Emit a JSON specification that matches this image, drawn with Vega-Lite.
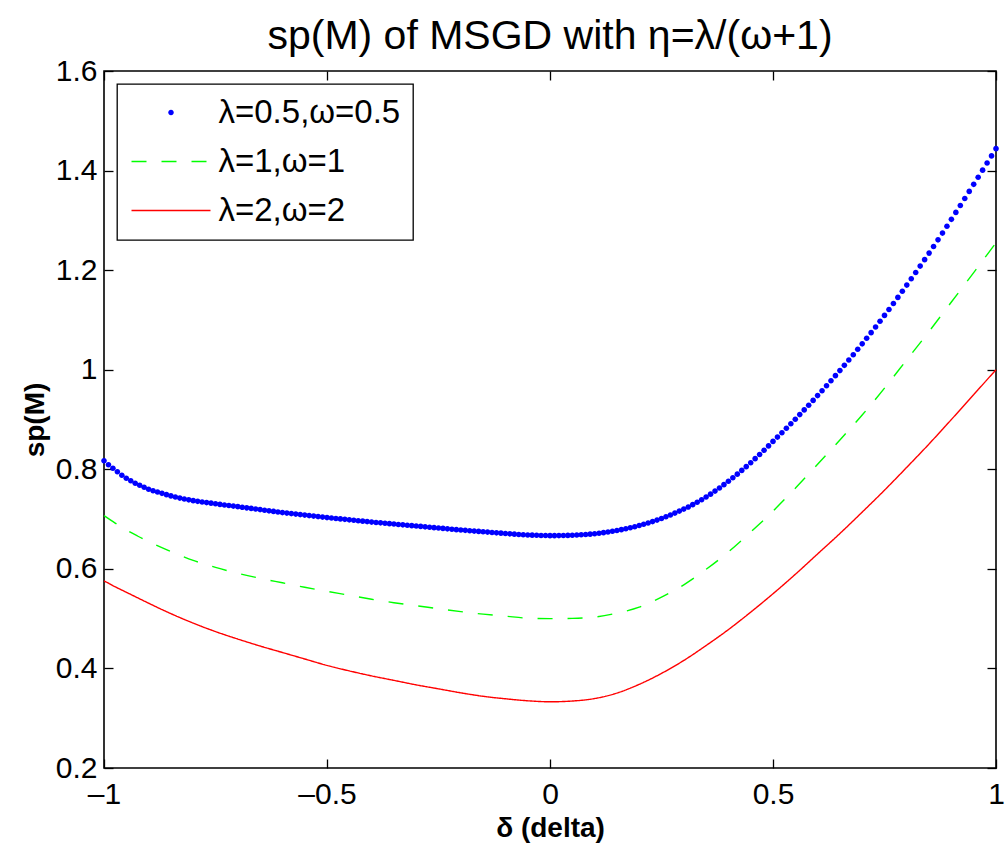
{
  "$schema": "https://vega.github.io/schema/vega-lite/v6.json",
  "width": 892,
  "height": 697,
  "autosize": {"type": "none"},
  "padding": {"left": 104, "top": 71, "right": 9, "bottom": 79},
  "background": "white",
  "title": {
    "text": "sp(M) of MSGD with η=λ/(ω+1)",
    "font": "Liberation Sans",
    "fontSize": 41,
    "fontWeight": "normal",
    "color": "black",
    "anchor": "middle",
    "frame": "group",
    "offset": -2
  },
  "config": {
    "view": {"stroke": "black", "strokeWidth": 1.6},
    "axis": {
      "domain": false,
      "grid": false,
      "tickColor": "black",
      "tickWidth": 1.3,
      "tickSize": -9,
      "labelFont": "Liberation Sans",
      "labelFontSize": 30,
      "labelColor": "black",
      "labelFlush": false,
      "labelOverlap": false,
      "titleFont": "Liberation Sans",
      "titleFontSize": 28,
      "titleFontWeight": "bold",
      "titleColor": "black"
    },
    "legend": {
      "orient": "top-left",
      "offset": 13,
      "padding": 12,
      "strokeColor": "black",
      "strokeWidth": 1.3,
      "fillColor": "white",
      "labelFont": "Liberation Sans",
      "labelFontSize": 33,
      "labelColor": "black",
      "labelLimit": 1000,
      "symbolSize": 100,
      "symbolOffset": 25.5,
      "labelOffset": 31,
      "rowPadding": 15,
      "symbolStrokeWidth": 1.4,
      "symbolOpacity": 1
    }
  },
  "datasets": {
    "blue": [
      {"d": -1.00, "v": 0.817}, {"d": -0.99, "v": 0.809}, {"d": -0.98, "v": 0.802}, {"d": -0.97, "v": 0.795}, {"d": -0.96, "v": 0.788},
      {"d": -0.95, "v": 0.782}, {"d": -0.94, "v": 0.777}, {"d": -0.93, "v": 0.772}, {"d": -0.92, "v": 0.768}, {"d": -0.91, "v": 0.764},
      {"d": -0.90, "v": 0.760}, {"d": -0.89, "v": 0.757}, {"d": -0.88, "v": 0.7543}, {"d": -0.87, "v": 0.7517}, {"d": -0.86, "v": 0.749},
      {"d": -0.85, "v": 0.7465}, {"d": -0.84, "v": 0.7443}, {"d": -0.83, "v": 0.7422}, {"d": -0.82, "v": 0.7403}, {"d": -0.81, "v": 0.7386},
      {"d": -0.80, "v": 0.737}, {"d": -0.79, "v": 0.7356}, {"d": -0.78, "v": 0.7343}, {"d": -0.77, "v": 0.7331}, {"d": -0.76, "v": 0.7319},
      {"d": -0.75, "v": 0.7307}, {"d": -0.74, "v": 0.7295}, {"d": -0.73, "v": 0.7283}, {"d": -0.72, "v": 0.7272}, {"d": -0.71, "v": 0.7261},
      {"d": -0.70, "v": 0.725}, {"d": -0.69, "v": 0.7238}, {"d": -0.68, "v": 0.7226}, {"d": -0.67, "v": 0.7214}, {"d": -0.66, "v": 0.7202},
      {"d": -0.65, "v": 0.719}, {"d": -0.64, "v": 0.7178}, {"d": -0.63, "v": 0.7166}, {"d": -0.62, "v": 0.7154}, {"d": -0.61, "v": 0.7142},
      {"d": -0.60, "v": 0.713}, {"d": -0.59, "v": 0.712}, {"d": -0.58, "v": 0.711}, {"d": -0.57, "v": 0.710}, {"d": -0.56, "v": 0.709},
      {"d": -0.55, "v": 0.708}, {"d": -0.54, "v": 0.707}, {"d": -0.53, "v": 0.706}, {"d": -0.52, "v": 0.705}, {"d": -0.51, "v": 0.704},
      {"d": -0.50, "v": 0.703}, {"d": -0.49, "v": 0.7021}, {"d": -0.48, "v": 0.7012}, {"d": -0.47, "v": 0.7003}, {"d": -0.46, "v": 0.6994},
      {"d": -0.45, "v": 0.6985}, {"d": -0.44, "v": 0.6976}, {"d": -0.43, "v": 0.6967}, {"d": -0.42, "v": 0.6958}, {"d": -0.41, "v": 0.6949},
      {"d": -0.40, "v": 0.694}, {"d": -0.39, "v": 0.6932}, {"d": -0.38, "v": 0.6924}, {"d": -0.37, "v": 0.6916}, {"d": -0.36, "v": 0.6908},
      {"d": -0.35, "v": 0.690}, {"d": -0.34, "v": 0.6892}, {"d": -0.33, "v": 0.6884}, {"d": -0.32, "v": 0.6876}, {"d": -0.31, "v": 0.6868},
      {"d": -0.30, "v": 0.686}, {"d": -0.29, "v": 0.6852}, {"d": -0.28, "v": 0.6844}, {"d": -0.27, "v": 0.6836}, {"d": -0.26, "v": 0.6828},
      {"d": -0.25, "v": 0.682}, {"d": -0.24, "v": 0.6812}, {"d": -0.23, "v": 0.6804}, {"d": -0.22, "v": 0.6796}, {"d": -0.21, "v": 0.6788},
      {"d": -0.20, "v": 0.678}, {"d": -0.19, "v": 0.6773}, {"d": -0.18, "v": 0.6766}, {"d": -0.17, "v": 0.6759}, {"d": -0.16, "v": 0.6752},
      {"d": -0.15, "v": 0.6745}, {"d": -0.14, "v": 0.6738}, {"d": -0.13, "v": 0.6731}, {"d": -0.12, "v": 0.6724}, {"d": -0.11, "v": 0.6717},
      {"d": -0.10, "v": 0.671}, {"d": -0.09, "v": 0.6703}, {"d": -0.08, "v": 0.6697}, {"d": -0.07, "v": 0.6691}, {"d": -0.06, "v": 0.6686},
      {"d": -0.05, "v": 0.6681}, {"d": -0.04, "v": 0.6677}, {"d": -0.03, "v": 0.6674}, {"d": -0.02, "v": 0.6671}, {"d": -0.01, "v": 0.6669},
      {"d": 0.00, "v": 0.6667}, {"d": 0.01, "v": 0.6667}, {"d": 0.02, "v": 0.6668}, {"d": 0.03, "v": 0.667}, {"d": 0.04, "v": 0.6672},
      {"d": 0.05, "v": 0.6675}, {"d": 0.06, "v": 0.6679}, {"d": 0.07, "v": 0.6684}, {"d": 0.08, "v": 0.669}, {"d": 0.09, "v": 0.6697},
      {"d": 0.10, "v": 0.6705}, {"d": 0.11, "v": 0.6715}, {"d": 0.12, "v": 0.6727}, {"d": 0.13, "v": 0.674}, {"d": 0.14, "v": 0.6755},
      {"d": 0.15, "v": 0.677}, {"d": 0.16, "v": 0.6787}, {"d": 0.17, "v": 0.6805}, {"d": 0.18, "v": 0.6825}, {"d": 0.19, "v": 0.6846},
      {"d": 0.20, "v": 0.687}, {"d": 0.21, "v": 0.6895}, {"d": 0.22, "v": 0.6922}, {"d": 0.23, "v": 0.695}, {"d": 0.24, "v": 0.698},
      {"d": 0.25, "v": 0.7012}, {"d": 0.26, "v": 0.7046}, {"d": 0.27, "v": 0.7082}, {"d": 0.28, "v": 0.712}, {"d": 0.29, "v": 0.716},
      {"d": 0.30, "v": 0.720}, {"d": 0.31, "v": 0.7243}, {"d": 0.32, "v": 0.7289}, {"d": 0.33, "v": 0.7338}, {"d": 0.34, "v": 0.7389},
      {"d": 0.35, "v": 0.7444}, {"d": 0.36, "v": 0.7501}, {"d": 0.37, "v": 0.7562}, {"d": 0.38, "v": 0.7625}, {"d": 0.39, "v": 0.7691},
      {"d": 0.40, "v": 0.776}, {"d": 0.41, "v": 0.783}, {"d": 0.42, "v": 0.7902}, {"d": 0.43, "v": 0.7977}, {"d": 0.44, "v": 0.8053},
      {"d": 0.45, "v": 0.8132}, {"d": 0.46, "v": 0.8213}, {"d": 0.47, "v": 0.8297}, {"d": 0.48, "v": 0.8382}, {"d": 0.49, "v": 0.847},
      {"d": 0.50, "v": 0.856}, {"d": 0.51, "v": 0.8647}, {"d": 0.52, "v": 0.8735}, {"d": 0.53, "v": 0.8824}, {"d": 0.54, "v": 0.8914},
      {"d": 0.55, "v": 0.9005}, {"d": 0.56, "v": 0.9098}, {"d": 0.57, "v": 0.9192}, {"d": 0.58, "v": 0.9287}, {"d": 0.59, "v": 0.9383},
      {"d": 0.60, "v": 0.948}, {"d": 0.61, "v": 0.9578}, {"d": 0.62, "v": 0.9677}, {"d": 0.63, "v": 0.9778}, {"d": 0.64, "v": 0.988},
      {"d": 0.65, "v": 0.9983}, {"d": 0.66, "v": 1.0088}, {"d": 0.67, "v": 1.0194}, {"d": 0.68, "v": 1.0301}, {"d": 0.69, "v": 1.041},
      {"d": 0.70, "v": 1.052}, {"d": 0.71, "v": 1.0631}, {"d": 0.72, "v": 1.0744}, {"d": 0.73, "v": 1.0858}, {"d": 0.74, "v": 1.0974},
      {"d": 0.75, "v": 1.1091}, {"d": 0.76, "v": 1.121}, {"d": 0.77, "v": 1.133}, {"d": 0.78, "v": 1.1452}, {"d": 0.79, "v": 1.1575},
      {"d": 0.80, "v": 1.170}, {"d": 0.81, "v": 1.1826}, {"d": 0.82, "v": 1.1953}, {"d": 0.83, "v": 1.2081}, {"d": 0.84, "v": 1.2211},
      {"d": 0.85, "v": 1.2342}, {"d": 0.86, "v": 1.2475}, {"d": 0.87, "v": 1.2609}, {"d": 0.88, "v": 1.2744}, {"d": 0.89, "v": 1.2881},
      {"d": 0.90, "v": 1.302}, {"d": 0.91, "v": 1.3159}, {"d": 0.92, "v": 1.3299}, {"d": 0.93, "v": 1.344}, {"d": 0.94, "v": 1.3581},
      {"d": 0.95, "v": 1.3723}, {"d": 0.96, "v": 1.3865}, {"d": 0.97, "v": 1.4008}, {"d": 0.98, "v": 1.4151}, {"d": 0.99, "v": 1.4295},
      {"d": 1.00, "v": 1.444}
    ],
    "lines": [
      {"s": "λ=1,ω=1", "d": -1, "v": 0.707}, {"s": "λ=1,ω=1", "d": -0.975, "v": 0.692}, {"s": "λ=1,ω=1", "d": -0.95, "v": 0.678},
      {"s": "λ=1,ω=1", "d": -0.925, "v": 0.666}, {"s": "λ=1,ω=1", "d": -0.9, "v": 0.655}, {"s": "λ=1,ω=1", "d": -0.85, "v": 0.635},
      {"s": "λ=1,ω=1", "d": -0.8, "v": 0.617}, {"s": "λ=1,ω=1", "d": -0.75, "v": 0.603}, {"s": "λ=1,ω=1", "d": -0.7, "v": 0.591},
      {"s": "λ=1,ω=1", "d": -0.65, "v": 0.581}, {"s": "λ=1,ω=1", "d": -0.6, "v": 0.572}, {"s": "λ=1,ω=1", "d": -0.55, "v": 0.563},
      {"s": "λ=1,ω=1", "d": -0.5, "v": 0.555}, {"s": "λ=1,ω=1", "d": -0.45, "v": 0.547}, {"s": "λ=1,ω=1", "d": -0.4, "v": 0.539},
      {"s": "λ=1,ω=1", "d": -0.35, "v": 0.532}, {"s": "λ=1,ω=1", "d": -0.3, "v": 0.526}, {"s": "λ=1,ω=1", "d": -0.25, "v": 0.52},
      {"s": "λ=1,ω=1", "d": -0.2, "v": 0.514}, {"s": "λ=1,ω=1", "d": -0.15, "v": 0.509}, {"s": "λ=1,ω=1", "d": -0.1, "v": 0.505},
      {"s": "λ=1,ω=1", "d": -0.05, "v": 0.501}, {"s": "λ=1,ω=1", "d": 0, "v": 0.5}, {"s": "λ=1,ω=1", "d": 0.05, "v": 0.5005},
      {"s": "λ=1,ω=1", "d": 0.1, "v": 0.503}, {"s": "λ=1,ω=1", "d": 0.15, "v": 0.511}, {"s": "λ=1,ω=1", "d": 0.2, "v": 0.523},
      {"s": "λ=1,ω=1", "d": 0.25, "v": 0.543}, {"s": "λ=1,ω=1", "d": 0.3, "v": 0.568}, {"s": "λ=1,ω=1", "d": 0.35, "v": 0.599},
      {"s": "λ=1,ω=1", "d": 0.4, "v": 0.634}, {"s": "λ=1,ω=1", "d": 0.45, "v": 0.674}, {"s": "λ=1,ω=1", "d": 0.5, "v": 0.716},
      {"s": "λ=1,ω=1", "d": 0.55, "v": 0.762}, {"s": "λ=1,ω=1", "d": 0.6, "v": 0.81}, {"s": "λ=1,ω=1", "d": 0.65, "v": 0.859},
      {"s": "λ=1,ω=1", "d": 0.7, "v": 0.909}, {"s": "λ=1,ω=1", "d": 0.75, "v": 0.963}, {"s": "λ=1,ω=1", "d": 0.8, "v": 1.02},
      {"s": "λ=1,ω=1", "d": 0.85, "v": 1.077}, {"s": "λ=1,ω=1", "d": 0.9, "v": 1.136}, {"s": "λ=1,ω=1", "d": 0.95, "v": 1.195},
      {"s": "λ=1,ω=1", "d": 1.0, "v": 1.255},
      {"s": "λ=2,ω=2", "d": -1, "v": 0.576}, {"s": "λ=2,ω=2", "d": -0.975, "v": 0.564}, {"s": "λ=2,ω=2", "d": -0.95, "v": 0.553},
      {"s": "λ=2,ω=2", "d": -0.925, "v": 0.542}, {"s": "λ=2,ω=2", "d": -0.9, "v": 0.531}, {"s": "λ=2,ω=2", "d": -0.85, "v": 0.51},
      {"s": "λ=2,ω=2", "d": -0.8, "v": 0.491}, {"s": "λ=2,ω=2", "d": -0.75, "v": 0.474}, {"s": "λ=2,ω=2", "d": -0.7, "v": 0.459},
      {"s": "λ=2,ω=2", "d": -0.65, "v": 0.445}, {"s": "λ=2,ω=2", "d": -0.6, "v": 0.432}, {"s": "λ=2,ω=2", "d": -0.55, "v": 0.419},
      {"s": "λ=2,ω=2", "d": -0.5, "v": 0.406}, {"s": "λ=2,ω=2", "d": -0.45, "v": 0.395}, {"s": "λ=2,ω=2", "d": -0.4, "v": 0.385},
      {"s": "λ=2,ω=2", "d": -0.35, "v": 0.376}, {"s": "λ=2,ω=2", "d": -0.3, "v": 0.367}, {"s": "λ=2,ω=2", "d": -0.25, "v": 0.359},
      {"s": "λ=2,ω=2", "d": -0.2, "v": 0.351}, {"s": "λ=2,ω=2", "d": -0.15, "v": 0.344}, {"s": "λ=2,ω=2", "d": -0.1, "v": 0.339},
      {"s": "λ=2,ω=2", "d": -0.05, "v": 0.335}, {"s": "λ=2,ω=2", "d": 0, "v": 0.333}, {"s": "λ=2,ω=2", "d": 0.05, "v": 0.3345},
      {"s": "λ=2,ω=2", "d": 0.1, "v": 0.3395}, {"s": "λ=2,ω=2", "d": 0.15, "v": 0.3505}, {"s": "λ=2,ω=2", "d": 0.2, "v": 0.368},
      {"s": "λ=2,ω=2", "d": 0.25, "v": 0.39}, {"s": "λ=2,ω=2", "d": 0.3, "v": 0.416}, {"s": "λ=2,ω=2", "d": 0.35, "v": 0.446},
      {"s": "λ=2,ω=2", "d": 0.4, "v": 0.478}, {"s": "λ=2,ω=2", "d": 0.45, "v": 0.513}, {"s": "λ=2,ω=2", "d": 0.5, "v": 0.55},
      {"s": "λ=2,ω=2", "d": 0.55, "v": 0.589}, {"s": "λ=2,ω=2", "d": 0.6, "v": 0.63}, {"s": "λ=2,ω=2", "d": 0.65, "v": 0.671},
      {"s": "λ=2,ω=2", "d": 0.7, "v": 0.714}, {"s": "λ=2,ω=2", "d": 0.75, "v": 0.758}, {"s": "λ=2,ω=2", "d": 0.8, "v": 0.804},
      {"s": "λ=2,ω=2", "d": 0.85, "v": 0.851}, {"s": "λ=2,ω=2", "d": 0.9, "v": 0.9}, {"s": "λ=2,ω=2", "d": 0.95, "v": 0.95},
      {"s": "λ=2,ω=2", "d": 1.0, "v": 1.0}
    ]
  },
  "layer": [
    {
      "data": {"name": "blue"},
      "mark": {"type": "point", "filled": true, "size": 105, "strokeWidth": 0, "opacity": 1},
      "encoding": {
        "x": {
          "field": "d", "type": "quantitative",
          "scale": {"domain": [-1, 1], "nice": false, "zero": false},
          "axis": {
            "orient": "bottom",
            "values": [-1, -0.5, 0, 0.5, 1],
            "labelPadding": 20,
            "labelExpr": "replace('' + datum.value, '-', '\u2013')",
            "title": "δ (delta)",
            "titlePadding": 5
          }
        },
        "y": {
          "field": "v", "type": "quantitative",
          "scale": {"domain": [0.2, 1.6], "nice": false, "zero": false},
          "axis": {
            "orient": "left",
            "values": [0.2, 0.4, 0.6, 0.8, 1, 1.2, 1.4, 1.6],
            "labelPadding": 16,
            "labelExpr": "'' + round(datum.value * 10) / 10",
            "title": "sp(M)",
            "titlePadding": 6
          }
        },
        "fill": {
          "datum": "λ=0.5,ω=0.5",
          "type": "nominal",
          "scale": {"domain": ["λ=0.5,ω=0.5", "λ=1,ω=1", "λ=2,ω=2"], "range": ["#0000ff", "transparent", "transparent"]},
          "legend": {"title": null}
        },
        "shape": {
          "datum": "λ=0.5,ω=0.5",
          "type": "nominal",
          "scale": {"domain": ["λ=0.5,ω=0.5", "λ=1,ω=1", "λ=2,ω=2"], "range": ["M-0.55,0A0.55,0.55,0,1,0,0.55,0A0.55,0.55,0,1,0,-0.55,0Z", "M-7.9,0H7.9", "M-7.9,0H7.9"]},
          "legend": {"title": null}
        }
      }
    },
    {
      "data": {"name": "lines"},
      "mark": {"type": "line", "strokeWidth": 1.4, "interpolate": "monotone"},
      "encoding": {
        "x": {
          "field": "d", "type": "quantitative",
          "axis": {"orient": "top", "values": [-1, -0.5, 0, 0.5, 1], "labels": false, "title": null}
        },
        "y": {
          "field": "v", "type": "quantitative",
          "axis": {"orient": "right", "values": [0.2, 0.4, 0.6, 0.8, 1, 1.2, 1.4, 1.6], "labels": false, "title": null}
        },
        "stroke": {
          "field": "s",
          "type": "nominal",
          "scale": {"domain": ["λ=0.5,ω=0.5", "λ=1,ω=1", "λ=2,ω=2"], "range": ["transparent", "#00ff00", "#ff0000"]},
          "legend": {"title": null}
        },
        "strokeDash": {
          "field": "s",
          "type": "nominal",
          "scale": {"domain": ["λ=0.5,ω=0.5", "λ=1,ω=1", "λ=2,ω=2"], "range": [[1, 0], [15, 15], [1, 0]]},
          "legend": {"title": null}
        }
      }
    }
  ],
  "resolve": {"axis": {"x": "independent", "y": "independent"}}
}
